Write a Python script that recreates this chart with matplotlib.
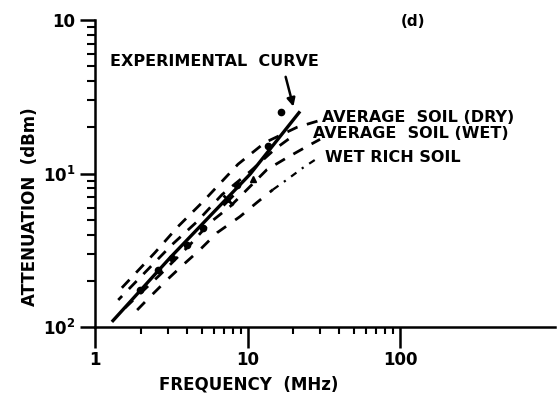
import numpy as np
import matplotlib
matplotlib.use("Agg")
import matplotlib.pyplot as plt
from matplotlib.ticker import FixedLocator, FixedFormatter, NullFormatter

plt.rcParams['font.family'] = ['DejaVu Sans']
plt.rcParams['mathtext.default'] = 'bf'

# experimental curve (solid)
exp_freq = [1.29, 3.10, 6.0, 10.4, 22.1]
exp_att = [1.08, 2.82, 5.6, 9.9, 25.4]

# measured points
dot_freq = [1.97, 2.59, 3.20, 4.01, 5.11, 8.53, 13.6, 16.6]
dot_att = [1.75, 2.36, 2.82, 3.44, 4.44, 8.47, 15.0, 25.0]
x_freq = [7.45]
x_att = [6.76]
tri_freq = [10.9]
tri_att = [9.14]

# average soil (dry)
dry_freq = [1.50, 2.47, 3.50, 5.11, 8.67, 13.0, 21.1, 29.9]
dry_att = [1.80, 3.05, 4.51, 6.56, 11.5, 15.9, 20.0, 22.2]

# second dashed curve above the experimental one
mid_freq = [1.42, 3.20, 4.67, 6.81, 10.4, 15.1, 20.5]
mid_att = [1.50, 3.44, 4.86, 7.29, 10.3, 14.4, 18.0]

# average soil (wet)
wet_freq = [1.57, 2.67, 4.20, 5.68, 7.68, 9.93, 13.4, 18.2, 24.5, 29.9]
wet_att = [1.33, 2.19, 3.44, 4.79, 6.09, 7.86, 10.6, 12.7, 15.0, 16.7]

# wet rich soil
rich_freq = [1.89, 2.29, 2.97, 3.78, 4.88, 6.31, 8.93, 11.5, 14.7, 18.2, 23.1, 29.9]
rich_att = [1.29, 1.57, 2.03, 2.54, 3.19, 4.11, 5.24, 6.46, 7.86, 9.14, 10.9, 12.9]

y_ticks = [1, 10, 100]
y_labels = ["10$^2$", "10$^1$", "10"]
x_ticks = [1, 10, 100]
x_labels = ["1", "10", "100"]

W, H = 558, 400
fig = plt.figure(figsize=(W / 100, H / 100), dpi=100)
ax = fig.add_axes([95 / W, 1 - 327 / H, 460 / W, 307 / H])
ax.set_xscale('log')
ax.set_yscale('log')
ax.set_xlim(1, 1038)
ax.set_ylim(1, 100)

lw = 2.0
ax.plot(exp_freq, exp_att, color='black', lw=2.4, solid_capstyle='butt')
ax.plot(dry_freq, dry_att, color='black', lw=lw, linestyle=(0, (4, 3.5)))
ax.plot(mid_freq, mid_att, color='black', lw=lw, linestyle=(2, (4, 3.5)))
ax.plot(wet_freq, wet_att, color='black', lw=lw, linestyle=(0, (4, 3.5)))
ax.plot(rich_freq[:9], rich_att[:9], color='black', lw=lw, linestyle=(0, (4, 4)))
ax.plot(rich_freq[8:], rich_att[8:], color='black', lw=1.6, linestyle=(0, (3, 3, 1, 3)))

ax.plot(dot_freq, dot_att, 'o', color='black', ms=4.5)
ax.plot(x_freq, x_att, 'x', color='black', ms=7, mew=2)
ax.plot(tri_freq, tri_att, '^', color='black', ms=5)

for s in ['top', 'right']:
    ax.spines[s].set_visible(False)
for s in ['left', 'bottom']:
    ax.spines[s].set_linewidth(1.8)

ax.yaxis.set_major_locator(FixedLocator(y_ticks))
ax.yaxis.set_major_formatter(FixedFormatter(y_labels))
ax.yaxis.set_minor_locator(FixedLocator([m * d for d in [1, 10] for m in range(2, 10)]))
ax.yaxis.set_minor_formatter(NullFormatter())
ax.xaxis.set_major_locator(FixedLocator(x_ticks))
ax.xaxis.set_major_formatter(FixedFormatter(x_labels))
ax.xaxis.set_minor_locator(FixedLocator([m * d for d in [1, 10] for m in range(2, 10)]))
ax.xaxis.set_minor_formatter(NullFormatter())

ax.tick_params(axis='x', which='major', direction='out', length=15, width=1.8, pad=2,
               labelsize=12)
ax.tick_params(axis='x', which='minor', direction='out', length=5, width=1.5)
ax.tick_params(axis='y', which='major', direction='out', length=11, width=1.8, pad=3,
               labelsize=12)
ax.tick_params(axis='y', which='minor', direction='out', length=6, width=1.5)
for lab in ax.get_xticklabels() + ax.get_yticklabels():
    lab.set_fontweight('bold')

fig.text(30 / W, 1 - 207 / H, "ATTENUATION  (dBm)", rotation=90, ha='center',
         va='center', fontsize=12, fontweight='bold')
fig.text(249 / W, 1 - 385 / H, "FREQUENCY  (MHz)", ha='center', va='center',
         fontsize=12, fontweight='bold')
fig.text(413 / W, 1 - 22 / H, "(d)", ha='center', va='center', fontsize=11,
         fontweight='bold')
fig.text(110 / W, 1 - 62 / H, "EXPERIMENTAL  CURVE", ha='left', va='center',
         fontsize=11.5, fontweight='bold')
fig.text(322 / W, 1 - 118 / H, "AVERAGE  SOIL (DRY)", ha='left', va='center',
         fontsize=11.5, fontweight='bold')
fig.text(313 / W, 1 - 133 / H, "AVERAGE  SOIL (WET)", ha='left', va='center',
         fontsize=11.5, fontweight='bold')
fig.text(325 / W, 1 - 157 / H, "WET RICH SOIL", ha='left', va='center',
         fontsize=11.5, fontweight='bold')

ax.annotate('', xy=(20.2, 26.2), xytext=(17.6, 44.4),
            arrowprops=dict(arrowstyle='-|>', color='black', lw=1.8,
                            mutation_scale=12))

fig.savefig('out.png', dpi=100)
